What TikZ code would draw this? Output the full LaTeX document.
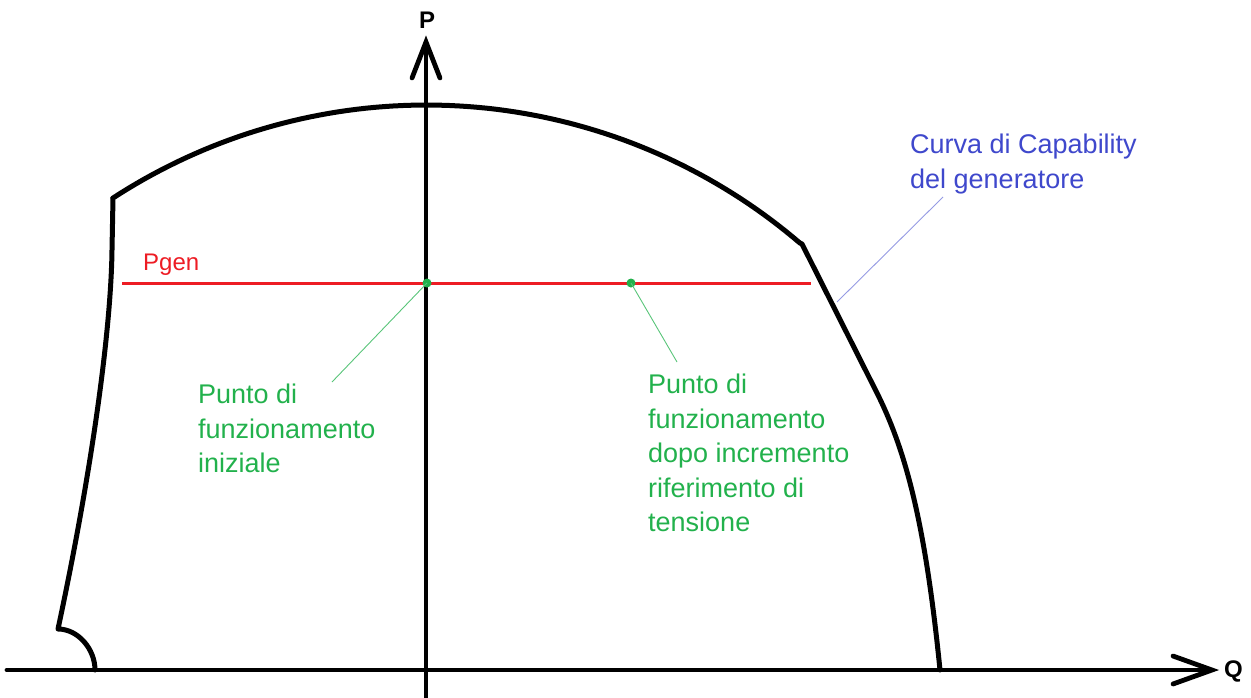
\documentclass[tikz,border=0pt]{standalone}
\usepackage{fontspec}
\setmainfont{Liberation Sans}
\definecolor{pred}{RGB}{237,28,36}
\definecolor{pgreen}{RGB}{34,177,76}
\definecolor{pblue}{RGB}{63,72,204}
\begin{document}
\begin{tikzpicture}[x=1pt,y=-1pt,
  curve/.style={line width=5pt, line join=round, line cap=round},
  axis/.style={line width=4.8pt, line cap=round, line join=miter},
  lbl/.style={font=\fontsize{27}{34.5}\selectfont, inner sep=0pt, align=left, anchor=north west},
  axlbl/.style={font=\bfseries\fontsize{24}{28}\selectfont, inner sep=0pt},
  gleader/.style={draw=pgreen!75, line width=0.9pt},
  bleader/.style={draw=pblue!55, line width=0.9pt},
  dot/.style={circle, fill=pgreen, inner sep=0pt, minimum size=9pt}
]
\useasboundingbox (0,0) rectangle (1251,697);
% axes
\coordinate (qstart) at (7,670);
\coordinate (qtip) at (1212,670);
\coordinate (qa) at (1173,656);
\coordinate (qb) at (1173,684);
\coordinate (pstart) at (426,700);
\coordinate (ptip) at (426,42);
\coordinate (pa) at (412,78);
\coordinate (pb) at (440,78);
\draw[axis] (qstart) -- (qtip);
\draw[axis] (qa) -- (qtip) -- (qb);
\draw[axis] (pstart) -- (ptip);
\draw[axis] (pa) -- (ptip) -- (pb);
\node[axlbl, anchor=base] (plbl) at (427,28) {P};
\node[axlbl, anchor=base west] (qlbl) at (1224,677) {Q};
% capability curve
\draw[curve] (95,670) .. controls (95,649) and (78,629) .. (58,629)
  .. controls (92,470) and (111,330) .. (112,250) -- (113,198)
  -- plot[domain=123.1:49.45, samples=80] ({426.4+574.6*cos(\x)}, {679.6-574.6*sin(\x)})
  -- (802,244) -- (878,395) .. controls (905,450) and (925,520) .. (940,670);
% Pgen line
\coordinate (ra) at (122,283);
\coordinate (rb) at (811,283);
\draw[pred, line width=3pt] (ra) -- (rb);
\node[font=\fontsize{24}{28}\selectfont, text=pred, inner sep=0pt, anchor=base west] (pgen) at (143,270) {Pgen};
% operating points
\node[dot] (d1) at (427,283) {};
\node[dot] (d2) at (631,283) {};
% labels
\node[lbl, text=pblue] (cap) at (910,134) {Curva di Capability\\del generatore};
\node[lbl, text=pgreen] (ini) at (198,384) {Punto di\\funzionamento\\iniziale};
\node[lbl, text=pgreen] (dopo) at (648,374) {Punto di\\funzionamento\\dopo incremento\\riferimento di\\tensione};
% leaders
\coordinate (l1) at (332,382);
\coordinate (l2) at (677,362);
\coordinate (b1) at (837,302);
\coordinate (b2) at (943,197);
\draw[gleader] (d1.center) -- (l1);
\draw[gleader] (d2.center) -- (l2);
\draw[bleader] (b1) -- (b2);
\end{tikzpicture}
\end{document}
